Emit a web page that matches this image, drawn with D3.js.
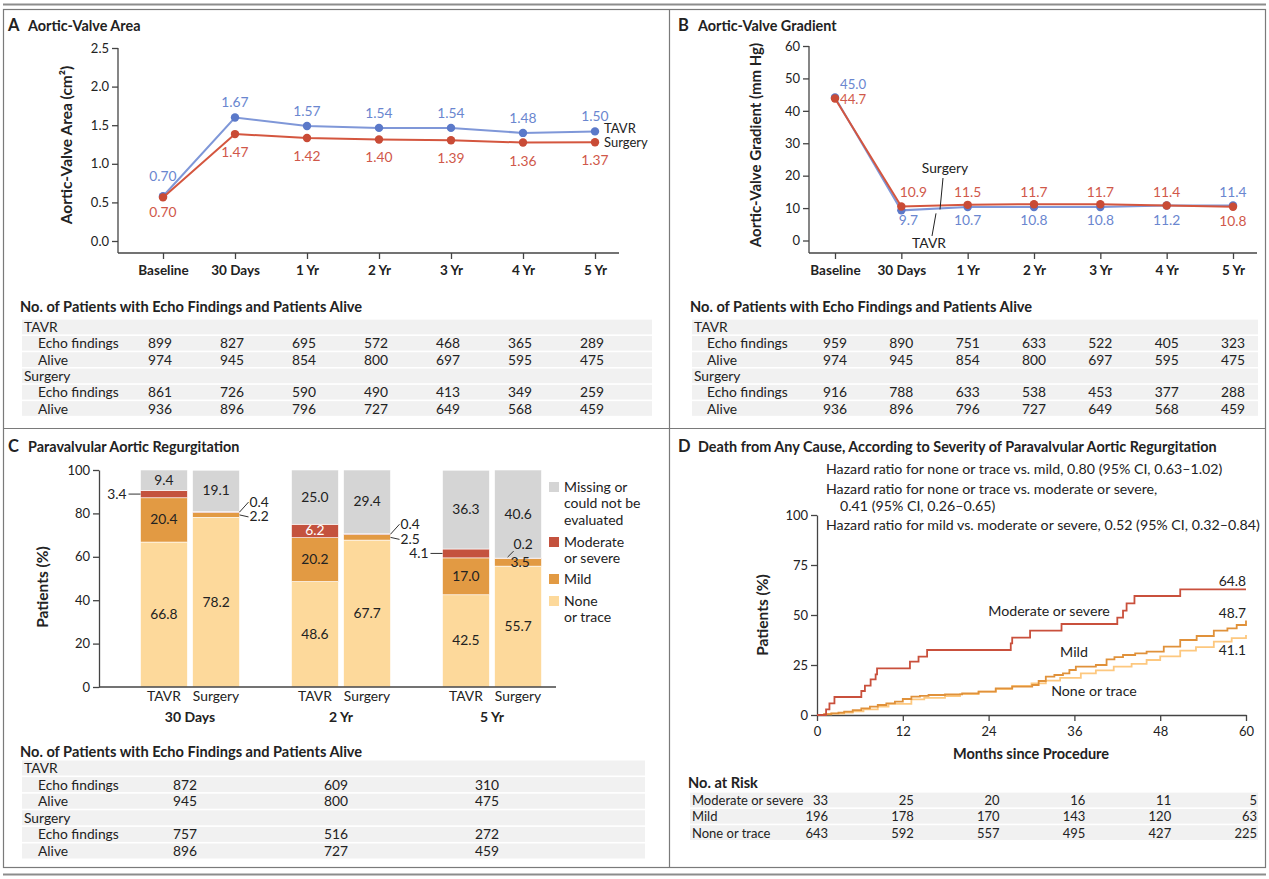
<!DOCTYPE html>
<html>
<head>
<meta charset="utf-8">
<script src="https://cdn.jsdelivr.net/npm/d3@7"></script>
<style>
  body { margin: 0; background: #fff; }
  svg { font-family: Lato, "Open Sans", sans-serif; }
  text { fill: #222; }
</style>
</head>
<body>
<div id="chart"></div>
<script>
// ---- data ----
const timeCats = ["Baseline", "30 Days", "1 Yr", "2 Yr", "3 Yr", "4 Yr", "5 Yr"];

// panel A (plotted values, printed labels separately)
const areaTavr = [0.58, 1.60, 1.49, 1.465, 1.465, 1.40, 1.42];
const areaSurgery = [0.565, 1.385, 1.335, 1.315, 1.305, 1.275, 1.28];
const areaTavrLabels = ["0.70", "1.67", "1.57", "1.54", "1.54", "1.48", "1.50"];
const areaSurgeryLabels = ["0.70", "1.47", "1.42", "1.40", "1.39", "1.36", "1.37"];
const areaTicks = [0, 0.5, 1.0, 1.5, 2.0, 2.5];

// panel B
const gradTavr = [44.1, 9.3, 10.3, 10.3, 10.3, 10.8, 10.8];
const gradSurgery = [43.8, 10.5, 11.0, 11.2, 11.2, 10.8, 10.4];
const gradTavrLabels = ["45.0", "9.7", "10.7", "10.8", "10.8", "11.2", "11.4"];
const gradSurgeryLabels = ["44.7", "10.9", "11.5", "11.7", "11.7", "11.4", "10.8"];
const gradTicks = [0, 10, 20, 30, 40, 50, 60];

// tables A / B
const echoTavrA = [899, 827, 695, 572, 468, 365, 289];
const echoSurgeryA = [861, 726, 590, 490, 413, 349, 259];
const echoTavrB = [959, 890, 751, 633, 522, 405, 323];
const echoSurgeryB = [916, 788, 633, 538, 453, 377, 288];
const aliveTavr = [974, 945, 854, 800, 697, 595, 475];
const aliveSurgery = [936, 896, 796, 727, 649, 568, 459];

// panel C
const pvlGroups = ["30 Days", "2 Yr", "5 Yr"];
const pvlArms = ["TAVR", "Surgery"];
const pvlLevels = ["None or trace", "Mild", "Moderate or severe", "Missing"];
const pvlNone = [[66.8, 78.2], [48.6, 67.7], [42.5, 55.7]];
const pvlMild = [[20.4, 2.2], [20.2, 2.5], [17.0, 3.5]];
const pvlModerate = [[3.4, 0.4], [6.2, 0.4], [4.1, 0.2]];
const pvlMissing = [[9.4, 19.1], [25.0, 29.4], [36.3, 40.6]];
const echoTavrC = [872, 609, 310];
const aliveTavrC = [945, 800, 475];
const echoSurgeryC = [757, 516, 272];
const aliveSurgeryC = [896, 727, 459];

// panel D (Kaplan-Meier steps)
const modTime = [0, 1.27, 1.74, 2.44, 6.2, 6.7, 7.5, 8.2, 8.4, 13.0, 14.2, 15.4, 27.1, 27.3, 29.8, 34.2, 42.0, 42.8, 43.3, 44.4, 50.8, 60];
const modPct = [0, 2.8, 5.8, 9.0, 12.0, 14.7, 17.8, 20.3, 23.3, 26.7, 29.2, 32.5, 35.8, 38.7, 42.2, 45.5, 48.7, 52.2, 55.8, 59.5, 62.8, 62.8];
const mildTime = [0, 1.0, 2.0, 3.0, 3.8, 5.0, 6.2, 7.4, 8.5, 9.7, 10.9, 12.0, 13.2, 14.4, 15.6, 17.9, 20.3, 22.6, 25.0, 27.3, 30.1, 31.0, 32.0, 33.2, 34.4, 35.3, 36.2, 39.0, 40.5, 41.6, 42.8, 44.5, 46.1, 48.5, 50.8, 53.1, 55.5, 57.4, 58.7, 60];
const mildPct = [0, 0.4, 0.8, 1.2, 1.7, 2.4, 3.3, 4.2, 5.0, 5.8, 6.7, 8.0, 9.2, 9.6, 10.0, 10.3, 10.8, 11.7, 13.3, 14.2, 15.0, 17.0, 19.2, 20.0, 20.8, 22.5, 24.2, 25.0, 27.8, 28.9, 30.0, 30.8, 31.7, 34.2, 37.5, 39.5, 42.2, 43.3, 45.0, 47.2];
const noneTime = [0, 1.0, 2.0, 3.8, 5.0, 6.5, 8.5, 10.0, 13.2, 15.0, 17.9, 20.0, 22.6, 25.0, 27.3, 30.0, 32.0, 34.0, 36.9, 39.0, 41.5, 44.0, 46.1, 48.0, 50.8, 53.0, 55.5, 58.0, 60];
const nonePct = [0, 0.3, 0.7, 1.2, 1.8, 2.8, 4.2, 5.6, 7.8, 8.6, 9.5, 10.4, 11.7, 12.9, 14.5, 15.8, 17.2, 18.6, 20.8, 22.3, 24.2, 25.6, 27.5, 29.3, 32.2, 33.9, 36.7, 38.4, 40.0];
const kmEndLabels = ["64.8", "48.7", "41.1"];
const monthTicks = [0, 12, 24, 36, 48, 60];
const pctTicksD = [0, 25, 50, 75, 100];
const riskMod = [33, 25, 20, 16, 11, 5];
const riskMild = [196, 178, 170, 143, 120, 63];
const riskNone = [643, 592, 557, 495, 427, 225];

const hazardLines = [
    "Hazard ratio for none or trace vs. mild, 0.80 (95% CI, 0.63\u20131.02)",
    "Hazard ratio for none or trace vs. moderate or severe,",
    "0.41 (95% CI, 0.26\u20130.65)",
    "Hazard ratio for mild vs. moderate or severe, 0.52 (95% CI, 0.32\u20130.84)"
];

// ---- colours ----
const blueLine = "#7f97d8", blueDot = "#5b79c9", blueText = "#6a86cf";
const redLine = "#d4563f", redDot = "#c94b36", redText = "#d0584a";
const pvlColor = d3.scaleOrdinal().domain(pvlLevels).range(["#fdd99b", "#e29a43", "#c4523e", "#d5d5d5"]);
const axisColor = "#444";
const FS = 13.8; // body text size

const W = 1269, H = 879;
const svg = d3.select("#chart").append("svg").attr("width", W).attr("height", H);
svg.append("rect").attr("width", W).attr("height", H).attr("fill", "#fff");

// ---- frame ----
svg.append("line").attr("x1", 3).attr("x2", 1266).attr("y1", 4.5).attr("y2", 4.5)
    .attr("stroke", "#8c8c8c").attr("stroke-width", 2);
svg.append("rect").attr("x", 3.5).attr("y", 9.5).attr("width", 1262).attr("height", 858)
    .attr("fill", "none").attr("stroke", "#7a7a7a").attr("stroke-width", 1.2);
svg.append("line").attr("x1", 3).attr("x2", 1266).attr("y1", 874.5).attr("y2", 874.5)
    .attr("stroke", "#8c8c8c").attr("stroke-width", 2);
svg.append("line").attr("x1", 669.5).attr("x2", 669.5).attr("y1", 9.5).attr("y2", 867.5)
    .attr("stroke", "#7a7a7a").attr("stroke-width", 1.2);
svg.append("line").attr("x1", 3.5).attr("x2", 1265.5).attr("y1", 428.5).attr("y2", 428.5)
    .attr("stroke", "#7a7a7a").attr("stroke-width", 1.2);

function panelTitle(x, y, letter, title) {
    svg.append("text").attr("x", x).attr("y", y).attr("font-size", 16.5).attr("font-weight", "bold").text(letter);
    svg.append("text").attr("x", x + 20).attr("y", y).attr("font-size", 14.4).attr("font-weight", "bold").text(title);
}
panelTitle(8, 31, "A", "Aortic-Valve Area");
panelTitle(678, 31, "B", "Aortic-Valve Gradient");
panelTitle(8, 452, "C", "Paravalvular Aortic Regurgitation");
panelTitle(678, 452, "D", "Death from Any Cause, According to Severity of Paravalvular Aortic Regurgitation");

function yTitle(x, y, txt, size) {
    svg.append("text").attr("transform", `translate(${x},${y}) rotate(-90)`)
        .attr("text-anchor", "middle").attr("font-size", size || 15).attr("font-weight", "bold").text(txt);
}

function styleAxis(g) {
    g.select(".domain").attr("stroke", axisColor).attr("stroke-width", 1.3);
    g.selectAll(".tick line").attr("stroke", axisColor).attr("stroke-width", 1.3);
    g.selectAll(".tick text").attr("fill", "#222").attr("font-family", "Lato, sans-serif");
}

// ---- line panels A and B ----
function linePanel(opt) {
    const x = d3.scalePoint().domain(timeCats).range(opt.xRange);
    const y = d3.scaleLinear().domain(opt.yDomain).range(opt.yRange);

    const gy = svg.append("g").attr("transform", `translate(${opt.axisX},0)`)
        .call(d3.axisLeft(y).tickValues(opt.ticks).tickSize(6).tickSizeOuter(0).tickFormat(opt.fmt));
    gy.select(".domain").attr("d", `M0,${y(opt.yDomain[1])}V${opt.baseY}`);
    styleAxis(gy);
    gy.selectAll(".tick text").attr("font-size", 13);

    const gx = svg.append("g").attr("transform", `translate(0,${opt.baseY})`)
        .call(d3.axisBottom(x).tickSize(6).tickSizeOuter(0));
    gx.select(".domain").attr("d", `M${opt.axisX},0H${opt.xEnd}`);
    styleAxis(gx);
    gx.selectAll(".tick text").attr("font-size", 13.5).attr("font-weight", "bold").attr("dy", "0.95em");

    yTitle(opt.titleX, 145, opt.title, opt.titleSize);

    const line = d3.line().x((d, i) => x(timeCats[i])).y(d => y(d));
    [[opt.tavr, blueLine, blueDot], [opt.surgery, redLine, redDot]].forEach(([vals, lc, dc]) => {
        svg.append("path").datum(vals).attr("d", line).attr("fill", "none")
            .attr("stroke", lc).attr("stroke-width", 2);
        svg.selectAll(null).data(vals).enter().append("circle")
            .attr("cx", (d, i) => x(timeCats[i])).attr("cy", d => y(d)).attr("r", 4.2).attr("fill", dc);
    });
    return { x, y };
}

// A
const A = linePanel({
    xRange: [163, 595], xEnd: 619, axisX: 118, baseY: 253,
    yDomain: [0, 2.5], yRange: [241, 48], ticks: areaTicks, fmt: d3.format(".1f"),
    tavr: areaTavr, surgery: areaSurgery, title: "Aortic-Valve Area (cm\u00b2)", titleX: 72, titleSize: 15.5
});
svg.selectAll(null).data(areaTavrLabels).enter().append("text")
    .attr("x", (d, i) => A.x(timeCats[i])).attr("y", (d, i) => A.y(areaTavr[i]) - (i === 0 ? 15 : 10))
    .attr("text-anchor", "middle").attr("font-size", FS).style("fill", blueText).text(d => d);
svg.selectAll(null).data(areaSurgeryLabels).enter().append("text")
    .attr("x", (d, i) => A.x(timeCats[i])).attr("y", (d, i) => A.y(areaSurgery[i]) + (i === 0 ? 20 : 23))
    .attr("text-anchor", "middle").attr("font-size", FS).style("fill", redText).text(d => d);
svg.append("text").attr("x", 604).attr("y", 133).attr("font-size", 13).text("TAVR");
svg.append("text").attr("x", 604).attr("y", 147).attr("font-size", 13).text("Surgery");

// B
const B = linePanel({
    xRange: [835, 1233], xEnd: 1257, axisX: 809, baseY: 253,
    yDomain: [0, 60], yRange: [240.5, 46], ticks: gradTicks, fmt: d3.format("d"),
    tavr: gradTavr, surgery: gradSurgery, title: "Aortic-Valve Gradient (mm Hg)", titleX: 761, titleSize: 15
});
timeCats.forEach((c, i) => {
    const tavrTop = (i === timeCats.length - 1);
    let tx = B.x(c), anchor = "middle";
    if (i === 0) { tx = B.x(c) + 5; anchor = "start"; }
    if (i === 1) tx = B.x(c) + 12;
    const ty = i === 0 ? 89 : (tavrTop ? 197 : 225);
    const sy = i === 0 ? 104 : (tavrTop ? 226 : 197);
    const fs = i === 0 ? 13.2 : FS;
    svg.append("text").attr("x", i === 1 ? B.x(c) + 7 : tx).attr("y", ty).attr("text-anchor", anchor)
        .attr("font-size", fs).style("fill", blueText).text(gradTavrLabels[i]);
    svg.append("text").attr("x", tx).attr("y", sy).attr("text-anchor", anchor)
        .attr("font-size", fs).style("fill", redText).text(gradSurgeryLabels[i]);
});
svg.append("text").attr("x", 945).attr("y", 173).attr("text-anchor", "middle").attr("font-size", FS).text("Surgery");
svg.append("line").attr("x1", 943).attr("y1", 178).attr("x2", 940).attr("y2", B.y(gradSurgery[1]) + 3)
    .attr("stroke", "#222").attr("stroke-width", 1);
svg.append("text").attr("x", 929).attr("y", 248).attr("text-anchor", "middle").attr("font-size", FS).text("TAVR");
svg.append("line").attr("x1", 932).attr("y1", 236).attr("x2", 936).attr("y2", B.y(gradTavr[1]) + 3)
    .attr("stroke", "#222").attr("stroke-width", 1);

// ---- tables ----
function table(opt) {
    const fs = opt.fs || FS;
    svg.append("text").attr("x", opt.x0 - 2).attr("y", opt.titleY + 5).attr("font-size", 14.6)
        .attr("font-weight", "bold").text(opt.title);
    opt.rows.forEach((r, i) => {
        const cy = opt.rowY + i * opt.step;
        svg.append("rect").attr("x", opt.x0).attr("y", cy - opt.step / 2 + 0.8)
            .attr("width", opt.x1 - opt.x0).attr("height", opt.step - 1.6).attr("fill", "#f1f1f1");
        svg.append("text").attr("x", opt.x0 + 2 + (r.indent ? opt.indent : 0)).attr("y", cy + 5)
            .attr("font-size", fs).text(r.label);
        if (r.values) {
            svg.selectAll(null).data(r.values).enter().append("text")
                .attr("x", (d, j) => opt.colX(j)).attr("y", cy + 5)
                .attr("text-anchor", opt.anchor || "middle").attr("font-size", fs).text(d => d);
        }
    });
}
const echoTitle = "No. of Patients with Echo Findings and Patients Alive";
table({
    x0: 22, x1: 652, titleY: 307, rowY: 327, step: 16.3, indent: 14, title: echoTitle,
    colX: j => A.x(timeCats[j]) - 3,
    rows: [{ label: "TAVR" }, { label: "Echo findings", indent: true, values: echoTavrA },
        { label: "Alive", indent: true, values: aliveTavr }, { label: "Surgery" },
        { label: "Echo findings", indent: true, values: echoSurgeryA }, { label: "Alive", indent: true, values: aliveSurgery }]
});
table({
    x0: 692, x1: 1258, titleY: 307, rowY: 327, step: 16.3, indent: 13, title: echoTitle,
    colX: j => B.x(timeCats[j]),
    rows: [{ label: "TAVR" }, { label: "Echo findings", indent: true, values: echoTavrB },
        { label: "Alive", indent: true, values: aliveTavr }, { label: "Surgery" },
        { label: "Echo findings", indent: true, values: echoSurgeryB }, { label: "Alive", indent: true, values: aliveSurgery }]
});

// ---- panel C: stacked bars ----
const xg = d3.scaleBand().domain(pvlGroups).range([114.5, 567.5]);
const xa = d3.scaleBand().domain(pvlArms).range([-49.5, 49.5]).paddingInner(0.1);
const yc = d3.scaleLinear().domain([0, 100]).range([687, 470]);

const pvlRows = [];
pvlGroups.forEach((g, gi) => pvlArms.forEach((a, ai) => {
    pvlRows.push({ group: g, arm: a, gi, ai,
        "None or trace": pvlNone[gi][ai], "Mild": pvlMild[gi][ai],
        "Moderate or severe": pvlModerate[gi][ai], "Missing": pvlMissing[gi][ai] });
}));
const stack = d3.stack().keys(pvlLevels)(pvlRows);
const barX = d => xg(d.group) + xg.bandwidth() / 2 + xa(d.arm);

stack.forEach(layer => {
    svg.selectAll(null).data(layer).enter().append("rect")
        .attr("x", d => barX(d.data)).attr("width", xa.bandwidth())
        .attr("y", d => yc(d[1])).attr("height", d => yc(d[0]) - yc(d[1]))
        .attr("fill", pvlColor(layer.key)).attr("stroke", "#fff").attr("stroke-width", 0.6);
});

const gyc = svg.append("g").attr("transform", "translate(99,0)")
    .call(d3.axisLeft(yc).tickValues([0, 20, 40, 60, 80, 100]).tickSize(6).tickSizeOuter(0));
styleAxis(gyc);
gyc.selectAll(".tick text").attr("font-size", 13);
svg.append("line").attr("x1", 99).attr("x2", 556).attr("y1", 687).attr("y2", 687)
    .attr("stroke", axisColor).attr("stroke-width", 1.3);
yTitle(48, 587, "Patients (%)", 15.5);

// arm labels and group labels
pvlRows.forEach(d => {
    svg.append("text").attr("x", barX(d) + xa.bandwidth() / 2).attr("y", 701).attr("text-anchor", "middle")
        .attr("font-size", FS).text(d.arm);
});
pvlGroups.forEach(g => {
    svg.append("text").attr("x", xg(g) + xg.bandwidth() / 2).attr("y", 722).attr("text-anchor", "middle")
        .attr("font-size", 14).attr("font-weight", "bold").text(g);
});

// segment labels
stack.forEach(layer => {
    layer.forEach(s => {
        const d = s.data, v = d[layer.key];
        const left = barX(d), right = left + xa.bandwidth(), mid = (yc(s[0]) + yc(s[1])) / 2;
        const cx = left + xa.bandwidth() / 2;
        const txt = d3.format(".1f")(v);
        const lbl = (x, y, anchor, fill) => svg.append("text").attr("x", x).attr("y", y)
            .attr("text-anchor", anchor).attr("font-size", FS).style("fill", fill || "#222").text(txt);
        const lead = (x1, y1, x2, y2) => svg.append("line").attr("x1", x1).attr("y1", y1).attr("x2", x2).attr("y2", y2)
            .attr("stroke", "#333").attr("stroke-width", 1);
        if (v >= 5) {
            lbl(cx, mid + 4.5, "middle", layer.key === "Moderate or severe" ? "#fff" : "#222");
        } else if (d.arm === "TAVR") {
            lead(left - 12, mid, left, mid);
            lbl(left - 14, mid + 4.5, "end");
        } else if (d.group === "5 Yr") {
            if (layer.key === "Mild") lbl(cx + 2, yc(s[1]) + 8, "middle");
            else { lead(left + 13, yc(s[1]) - 1, left + 19, yc(s[1]) - 7); lbl(left + 19, yc(s[1]) - 9, "start"); }
        } else {
            const isMod = layer.key === "Moderate or severe";
            const ty = isMod ? mid - 10 : mid + 2;
            lead(right, mid, right + 9, ty);
            lbl(right + 10, ty + 4.5, "start");
        }
    });
});

// legend C
const legendC = [
    { key: "Missing", lines: ["Missing or", "could not be", "evaluated"], y: 487 },
    { key: "Moderate or severe", lines: ["Moderate", "or severe"], y: 542 },
    { key: "Mild", lines: ["Mild"], y: 579 },
    { key: "None or trace", lines: ["None", "or trace"], y: 601 }
];
legendC.forEach(l => {
    svg.append("rect").attr("x", 549).attr("y", l.y - 5).attr("width", 10).attr("height", 10).attr("fill", pvlColor(l.key));
    l.lines.forEach((t, k) => {
        svg.append("text").attr("x", 564).attr("y", l.y + 4.5 + k * 16.5).attr("font-size", 14).text(t);
    });
});

table({
    x0: 22, x1: 645, titleY: 752, rowY: 768, step: 16.6, indent: 14, title: echoTitle,
    colX: j => xg(pvlGroups[j]) + xg.bandwidth() / 2 - 5,
    rows: [{ label: "TAVR" }, { label: "Echo findings", indent: true, values: echoTavrC },
        { label: "Alive", indent: true, values: aliveTavrC }, { label: "Surgery" },
        { label: "Echo findings", indent: true, values: echoSurgeryC }, { label: "Alive", indent: true, values: aliveSurgeryC }]
});

// ---- panel D: Kaplan-Meier ----
const xd = d3.scaleLinear().domain([0, 60]).range([817, 1246]);
const yd = d3.scaleLinear().domain([0, 100]).range([715, 515]);

const gxd = svg.append("g").attr("transform", "translate(0,715)")
    .call(d3.axisBottom(xd).tickValues(monthTicks).tickSize(6).tickSizeOuter(0));
styleAxis(gxd);
gxd.selectAll(".tick text").attr("font-size", 13).attr("dy", "0.9em");
const gyd = svg.append("g").attr("transform", "translate(817,0)")
    .call(d3.axisLeft(yd).tickValues(pctTicksD).tickSize(6).tickSizeOuter(0));
styleAxis(gyd);
gyd.selectAll(".tick text").attr("font-size", 13);
yTitle(768, 615, "Patients (%)", 15.5);
svg.append("text").attr("x", 1031).attr("y", 759).attr("text-anchor", "middle").attr("font-size", 14.5)
    .attr("font-weight", "bold").text("Months since Procedure");

const km = d3.line().curve(d3.curveStepAfter).x(d => xd(d[0])).y(d => yd(d[1]));
const kmSeries = [
    { t: noneTime, p: nonePct, color: "#fdc87f", w: 1.8 },
    { t: mildTime, p: mildPct, color: "#e0913a", w: 1.8 },
    { t: modTime, p: modPct, color: "#c9503c", w: 1.8 }
];
kmSeries.forEach(s => {
    svg.append("path").datum(s.t.map((t, i) => [t, s.p[i]])).attr("d", km)
        .attr("fill", "none").attr("stroke", s.color).attr("stroke-width", s.w);
});

hazardLines.forEach((t, i) => {
    svg.append("text").attr("x", i === 2 ? 840 : 826).attr("y", [474, 494, 511, 530][i])
        .attr("font-size", 14.2).text(t);
});
svg.append("text").attr("x", 1049).attr("y", 616).attr("text-anchor", "middle").attr("font-size", 14.2).text("Moderate or severe");
svg.append("text").attr("x", 1074).attr("y", 657).attr("text-anchor", "middle").attr("font-size", 14.2).text("Mild");
svg.append("text").attr("x", 1094).attr("y", 696).attr("text-anchor", "middle").attr("font-size", 14.2).text("None or trace");
[[kmEndLabels[0], 586], [kmEndLabels[1], 618], [kmEndLabels[2], 655]].forEach(([t, y]) => {
    svg.append("text").attr("x", 1246).attr("y", y).attr("text-anchor", "end").attr("font-size", FS).text(t);
});

table({
    x0: 690, x1: 1258, titleY: 783, rowY: 800, step: 16.3, indent: 0, title: "No. at Risk", fs: 13,
    colX: j => xd(monthTicks[j]) + 11, anchor: "end",
    rows: [{ label: "Moderate or severe", values: riskMod }, { label: "Mild", values: riskMild },
        { label: "None or trace", values: riskNone }]
});
</script>
</body>
</html>
